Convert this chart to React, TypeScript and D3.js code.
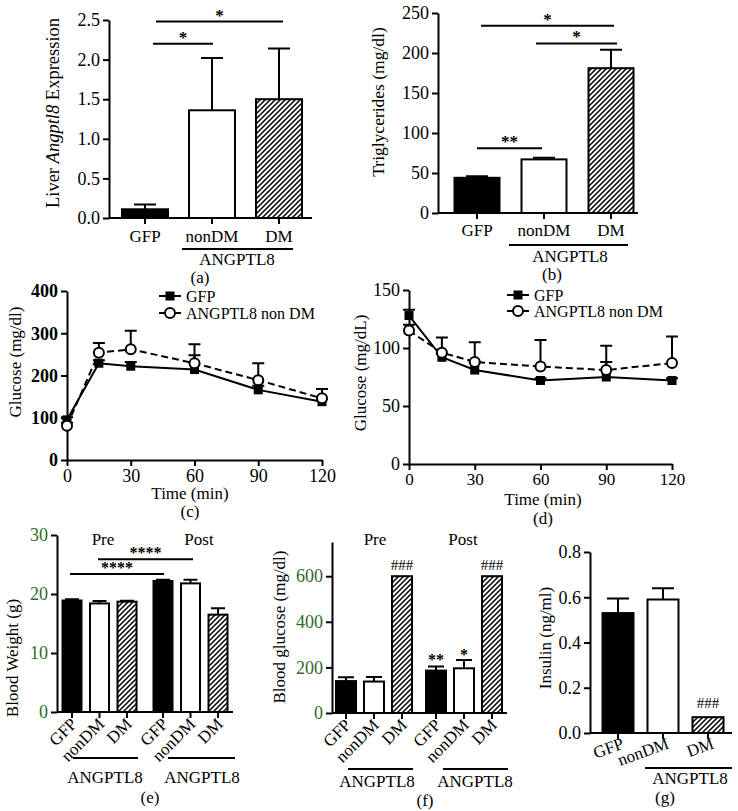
import React, { useEffect, useRef } from "react";
import * as d3 from "d3";

const W = 738;
const H = 811;
const FONT = "'Liberation Serif', 'Times New Roman', serif";
const GREEN = "#2f6a2a";

// shared categories
const groups = ["GFP", "nonDM", "DM"];
const phases = ["Pre", "Post"];

// (a) liver expression
const exprMean = [0.11, 1.36, 1.5];
const exprErr = [0.17, 2.02, 2.14];
const exprTicks = [0, 0.5, 1, 1.5, 2, 2.5];

// (b) triglycerides
const tgMean = [44, 67, 181];
const tgErr = [46, 69, 204];
const tgTicks = [0, 50, 100, 150, 200, 250];

// (c) glucose tolerance
const timePoints = [0, 15, 30, 60, 90, 120];
const timeTicks = [0, 30, 60, 90, 120];
const gttGFP = [95, 229, 222, 214, 166, 138];
const gttGFPErr = [101, 236, 232, 248, 176, 145];
const gttANG = [81, 254, 262, 229, 189, 146];
const gttANGErr = [88, 277, 306, 274, 229, 168];
const gttTicks = [0, 100, 200, 300, 400];

// (d) insulin tolerance
const ittGFP = [128, 92, 81, 72, 75, 72];
const ittGFPErr = [133, 95, 88, 74, 88, 74];
const ittANG = [115, 96, 88, 84, 81, 87];
const ittANGErr = [120, 109, 105, 107, 102, 110];
const ittTicks = [0, 50, 100, 150];

// (e) body weight
const weightPre = [18.9, 18.4, 18.7];
const weightPreErr = [19.1, 18.8, 18.85];
const weightPost = [22.2, 21.8, 16.5];
const weightPostErr = [22.4, 22.4, 17.6];
const weightTicks = [0, 10, 20, 30];

// (f) blood glucose
const bgPre = [140, 138, 600];
const bgPreErr = [157, 158, 600];
const bgPost = [186, 196, 600];
const bgPostErr = [204, 233, 600];
const bgTicks = [0, 200, 400, 600];

// (g) insulin
const insulin = [0.53, 0.59, 0.07];
const insulinErr = [0.595, 0.64, 0.07];
const insulinTicks = [0, 0.2, 0.4, 0.6, 0.8];

const fills = ["#000", "#fff", "url(#hatch)"];

type G = d3.Selection<SVGGElement, unknown, null, undefined>;

function txt(g: G, x: number, y: number, s: string, o: any = {}) {
  return g
    .append("text")
    .attr("x", x)
    .attr("y", y)
    .attr("text-anchor", o.anchor || "middle")
    .attr("font-family", FONT)
    .attr("font-size", o.size || 17)
    .attr("font-weight", o.bold ? "bold" : "normal")
    .attr("fill", o.color || "#000")
    .text(s);
}

function vlabel(g: G, x: number, y: number, s: string, size = 17) {
  return g
    .append("text")
    .attr("transform", `translate(${x},${y}) rotate(-90)`)
    .attr("text-anchor", "middle")
    .attr("font-family", FONT)
    .attr("font-size", size)
    .text(s);
}

function styleAxis(g: G, color = "#000", bold = false, size = 18) {
  g.attr("font-family", FONT).attr("font-size", size);
  g.selectAll("path,line").attr("stroke", "#000").attr("stroke-width", 2);
  g.selectAll("text").attr("fill", color).attr("font-weight", bold ? "bold" : "normal");
}

function yAxis(root: G, x: number, y: any, ticks: number[], fmt: any, color = "#000", bold = false) {
  const g = root.append("g").attr("transform", `translate(${x},0)`);
  g.call(d3.axisLeft(y).tickValues(ticks).tickFormat(fmt).tickSize(6).tickPadding(3).tickSizeOuter(0));
  styleAxis(g, color, bold);
  return g;
}

// bars at given centers, with upper error bars
function bars(root: G, xs: number[], y: any, means: number[], errs: number[], bw: number, capW: number) {
  const data = means.map((m, i) => ({ x: xs[i], m, e: errs[i], fill: fills[i % 3] }));
  root
    .selectAll(null)
    .data(data.filter((d) => d.e > d.m))
    .join("path")
    .attr("d", (d) => `M${d.x},${y(d.m)}V${y(d.e)}M${d.x - capW / 2},${y(d.e)}H${d.x + capW / 2}`)
    .attr("stroke", "#000")
    .attr("stroke-width", 2)
    .attr("fill", "none");
  root
    .selectAll(null)
    .data(data)
    .join("rect")
    .attr("x", (d) => d.x - bw / 2)
    .attr("y", (d) => y(d.m))
    .attr("width", bw)
    .attr("height", (d) => y(0) - y(d.m))
    .attr("fill", (d) => d.fill)
    .attr("stroke", "#000")
    .attr("stroke-width", 2);
}

function baseAxis(root: G, x0: number, x1: number, y0: number, xs: number[]) {
  root
    .append("line")
    .attr("x1", x0)
    .attr("x2", x1)
    .attr("y1", y0)
    .attr("y2", y0)
    .attr("stroke", "#000")
    .attr("stroke-width", 2);
  root
    .selectAll(null)
    .data(xs)
    .join("line")
    .attr("x1", (d) => d)
    .attr("x2", (d) => d)
    .attr("y1", y0)
    .attr("y2", y0 + 6)
    .attr("stroke", "#000")
    .attr("stroke-width", 2);
}

function hline(root: G, x1: number, x2: number, y: number, w = 2) {
  root
    .append("line")
    .attr("x1", x1)
    .attr("x2", x2)
    .attr("y1", y)
    .attr("y2", y)
    .attr("stroke", "#000")
    .attr("stroke-width", w);
}

function rotLabels(root: G, xs: number[], y0: number, labels: string[], angle: number, dx: number, dy: number) {
  root
    .selectAll(null)
    .data(labels)
    .join("text")
    .attr("transform", (d, i) => `translate(${xs[i] + dx},${y0 + dy}) rotate(${angle})`)
    .attr("text-anchor", "end")
    .attr("font-family", FONT)
    .attr("font-size", 17)
    .text((d) => d);
}

function sig(root: G, x1: number, x2: number, y: number, label: string, size = 17) {
  hline(root, x1, x2, y);
  txt(root, (x1 + x2) / 2, y - 1, label, { size, bold: true });
}

function linePanel(root: G, cfg: any) {
  const x = d3.scaleLinear().domain([0, 120]).range(cfg.xr);
  const y = d3.scaleLinear().domain([0, cfg.ymax]).range(cfg.yr);
  const gx = root.append("g").attr("transform", `translate(0,${cfg.yr[0]})`);
  gx.call(d3.axisBottom(x).tickValues(timeTicks).tickSize(6).tickPadding(cfg.xpad).tickSizeOuter(0));
  styleAxis(gx, "#000", false, cfg.xsize);
  yAxis(root, cfg.xr[0], y, cfg.yticks, d3.format("d"), "#000", cfg.bold);

  const line = d3
    .line<number>()
    .x((d, i) => x(timePoints[i]))
    .y((d) => y(d));
  root.append("path").attr("d", line(cfg.gfp)).attr("fill", "none").attr("stroke", "#000").attr("stroke-width", 2);
  root
    .append("path")
    .attr("d", line(cfg.ang))
    .attr("fill", "none")
    .attr("stroke", "#000")
    .attr("stroke-width", 2)
    .attr("stroke-dasharray", "7,4");

  const err = (vals: number[], errs: number[]) =>
    root
      .selectAll(null)
      .data(vals)
      .join("path")
      .attr("d", (d, i) => {
        const cx = x(timePoints[i]);
        return `M${cx},${y(d)}V${y(errs[i])}M${cx - 6},${y(errs[i])}H${cx + 6}`;
      })
      .attr("stroke", "#000")
      .attr("stroke-width", 2)
      .attr("fill", "none");
  err(cfg.gfp, cfg.gfpErr);
  err(cfg.ang, cfg.angErr);

  root
    .selectAll(null)
    .data(cfg.gfp as number[])
    .join("rect")
    .attr("x", (d, i) => x(timePoints[i]) - 4.5)
    .attr("y", (d) => y(d) - 4.5)
    .attr("width", 9)
    .attr("height", 9)
    .attr("fill", "#000");
  root
    .selectAll(null)
    .data(cfg.ang as number[])
    .join("circle")
    .attr("cx", (d, i) => x(timePoints[i]))
    .attr("cy", (d) => y(d))
    .attr("r", 5)
    .attr("fill", "#fff")
    .attr("stroke", "#000")
    .attr("stroke-width", 2);

  // legend
  const [lx, ly] = cfg.legend;
  hline(root, lx - 11, lx + 11, ly);
  root.append("rect").attr("x", lx - 4.5).attr("y", ly - 4.5).attr("width", 9).attr("height", 9);
  txt(root, lx + 16, ly + 6, "GFP", { anchor: "start", size: 16 });
  hline(root, lx - 11, lx + 11, ly + cfg.lgap);
  root
    .append("circle")
    .attr("cx", lx)
    .attr("cy", ly + cfg.lgap)
    .attr("r", 5)
    .attr("fill", "#fff")
    .attr("stroke", "#000")
    .attr("stroke-width", 2);
  txt(root, lx + 16, ly + cfg.lgap + 6, "ANGPTL8 non DM", { anchor: "start", size: 16 });
}

export default function App() {
  const ref = useRef<SVGSVGElement>(null);

  useEffect(() => {
    document.body.style.margin = "0";
    const svg = d3.select(ref.current);
    svg.selectAll("*").remove();
    const defs = svg.append("defs");
    const pat = defs
      .append("pattern")
      .attr("id", "hatch")
      .attr("patternUnits", "userSpaceOnUse")
      .attr("width", 5)
      .attr("height", 5);
    pat.append("rect").attr("width", 5).attr("height", 5).attr("fill", "#fff");
    pat
      .append("path")
      .attr("d", "M-1,1L1,-1M0,5L5,0M4,6L6,4")
      .attr("stroke", "#000")
      .attr("stroke-width", 1.5);

    const root = svg.append("g") as unknown as G;

    // ---------- (a)
    {
      const y = d3.scaleLinear().domain([0, 2.5]).range([218, 20]);
      const x = d3.scalePoint().domain(groups).range([145, 279]);
      const xs = groups.map((d) => x(d)!);
      bars(root, xs, y, exprMean, exprErr, 46, 22);
      baseAxis(root, 109, 312, 218, xs);
      yAxis(root, 109, y, exprTicks, d3.format(".1f"));
      sig(root, 153, 213, y(2.2), "*");
      sig(root, 156, 283, y(2.48), "*");
      groups.forEach((g, i) => txt(root, xs[i], 242, g));
      hline(root, 182, 293, 249);
      txt(root, 237, 265, "ANGPTL8");
      txt(root, 200, 283, "(a)");
      const lab = root
        .append("text")
        .attr("transform", "translate(59,113) rotate(-90)")
        .attr("text-anchor", "middle")
        .attr("font-family", FONT)
        .attr("font-size", 18.5);
      lab.append("tspan").text("Liver ");
      lab.append("tspan").attr("font-style", "italic").text("Angptl8");
      lab.append("tspan").text(" Expression");
    }

    // ---------- (b)
    {
      const y = d3.scaleLinear().domain([0, 250]).range([213, 13]);
      const x = d3.scalePoint().domain(groups).range([477, 611]);
      const xs = groups.map((d) => x(d)!);
      bars(root, xs, y, tgMean, tgErr, 45, 22);
      baseAxis(root, 438, 638, 213, xs);
      yAxis(root, 438, y, tgTicks, d3.format("d"));
      sig(root, 477, 542, y(81), "**");
      sig(root, 536, 617, y(212), "*");
      sig(root, 481, 614, y(234), "*");
      groups.forEach((g, i) => txt(root, xs[i], 236, g));
      hline(root, 509, 628, 245);
      txt(root, 570, 262, "ANGPTL8");
      txt(root, 552, 280, "(b)");
      vlabel(root, 384, 102, "Triglycerides (mg/dl)", 17.5);
    }

    // ---------- (c)
    linePanel(root, {
      xr: [67, 322],
      yr: [460, 291],
      ymax: 400,
      yticks: gttTicks,
      bold: true,
      xpad: 3,
      xsize: 18,
      gfp: gttGFP,
      gfpErr: gttGFPErr,
      ang: gttANG,
      angErr: gttANGErr,
      legend: [170, 296],
      lgap: 17,
    });
    txt(root, 190, 499, "Time (min)");
    txt(root, 190, 517, "(c)");
    vlabel(root, 21, 362, "Glucose (mg/dl)");

    // ---------- (d)
    linePanel(root, {
      xr: [409, 672],
      yr: [464, 290],
      ymax: 150,
      yticks: ittTicks,
      bold: false,
      xpad: 3,
      xsize: 17,
      gfp: ittGFP,
      gfpErr: ittGFPErr,
      ang: ittANG,
      angErr: ittANGErr,
      legend: [518, 295],
      lgap: 16,
    });
    txt(root, 543, 505, "Time (min)");
    txt(root, 543, 524, "(d)");
    vlabel(root, 366, 373, "Glucose (mg/dL)");

    // ---------- (e)
    {
      const y = d3.scaleLinear().domain([0, 30]).range([712, 535]);
      const outer = d3.scalePoint().domain(phases).range([72, 163]);
      const inner = d3.scalePoint().domain(groups).range([0, 55]);
      const xs = phases.flatMap((p) => groups.map((g) => outer(p)! + inner(g)!));
      bars(root, xs, y, [...weightPre, ...weightPost], [...weightPreErr, ...weightPostErr], 19, 14);
      baseAxis(root, 57, 233, 712, xs);
      yAxis(root, 57, y, weightTicks, d3.format("d"), GREEN);
      sig(root, 70, 164, y(23.4), "****", 16);
      sig(root, 98, 193, y(25.9), "****", 16);
      txt(root, 103, 545, "Pre");
      txt(root, 199, 545, "Post");
      rotLabels(root, xs, 712, [...groups, ...groups], -45, 6, 13);
      hline(root, 73, 138, 758);
      hline(root, 168, 235, 758);
      txt(root, 105, 783, "ANGPTL8");
      txt(root, 202, 783, "ANGPTL8");
      txt(root, 150, 803, "(e)");
      vlabel(root, 18, 658, "Blood Weight (g)");
    }

    // ---------- (f)
    {
      const y = d3.scaleLinear().domain([0, 750]).range([713, 542]);
      const outer = d3.scalePoint().domain(phases).range([346, 436]);
      const inner = d3.scalePoint().domain(groups).range([0, 56]);
      const xs = phases.flatMap((p) => groups.map((g) => outer(p)! + inner(g)!));
      bars(root, xs, y, [...bgPre, ...bgPost], [...bgPreErr, ...bgPostErr], 20, 16);
      baseAxis(root, 332, 507, 713, xs);
      yAxis(root, 332, y, bgTicks, d3.format("d"), GREEN);
      txt(root, xs[2], y(600) - 6, "###", { size: 15 });
      txt(root, xs[5], y(600) - 6, "###", { size: 15 });
      txt(root, xs[3], y(bgPostErr[0]) - 1, "**", { size: 16, bold: true });
      txt(root, xs[4], y(bgPostErr[1]), "*", { size: 16, bold: true });
      txt(root, 375, 545, "Pre");
      txt(root, 463, 545, "Post");
      rotLabels(root, xs, 713, [...groups, ...groups], -45, 6, 13);
      hline(root, 348, 413, 769);
      hline(root, 443, 508, 769);
      txt(root, 377, 787, "ANGPTL8");
      txt(root, 475, 787, "ANGPTL8");
      txt(root, 425, 806, "(f)");
      vlabel(root, 285, 627, "Blood glucose (mg/dl)");
    }

    // ---------- (g)
    {
      const y = d3.scaleLinear().domain([0, 0.8]).range([733, 552]);
      const x = d3.scalePoint().domain(groups).range([618, 708]);
      const xs = groups.map((d) => x(d)!);
      bars(root, xs, y, insulin, insulinErr, 31, 22);
      baseAxis(root, 590, 732, 733, xs);
      yAxis(root, 590, y, insulinTicks, d3.format(".1f"));
      txt(root, xs[2], y(insulin[2]) - 9, "###", { size: 15 });
      rotLabels(root, xs, 733, groups, -20, 7, 15);
      hline(root, 645, 732, 768);
      txt(root, 690, 784, "ANGPTL8");
      txt(root, 665, 803, "(g)");
      vlabel(root, 551, 638, "Insulin (ng/ml)");
    }
  }, []);

  return <svg ref={ref} width={W} height={H} style={{ display: "block", background: "#fff" }} />;
}
